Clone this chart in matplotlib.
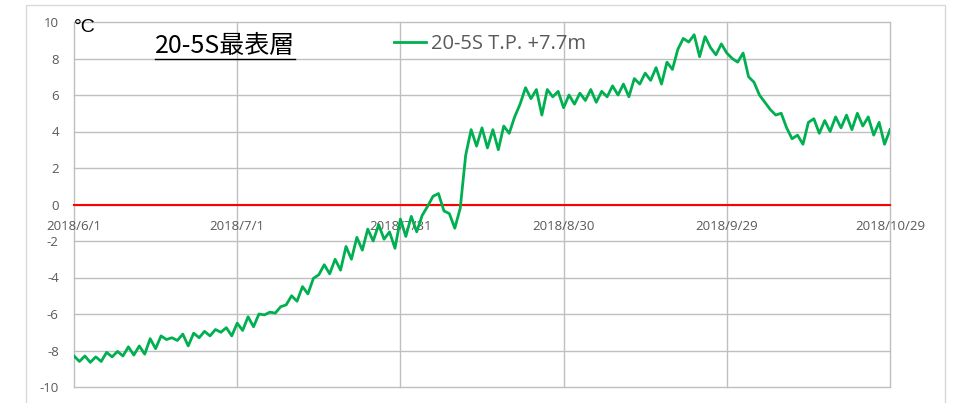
import numpy as np
import pandas as pd
import matplotlib
matplotlib.use('Agg')
import matplotlib.pyplot as plt
from matplotlib.lines import Line2D
from matplotlib.patches import Rectangle

plt.rcParams['axes.unicode_minus'] = False

# daily temperature at 20-5S T.P. +7.7m, 2018/6/1 - 2018/10/29
temp = [
    -8.3, -8.6, -8.3, -8.65, -8.35, -8.6, -8.1, -8.35, -8.05, -8.3,
    -7.8, -8.25, -7.75, -8.2, -7.35, -7.9, -7.2, -7.4, -7.3, -7.45,
    -7.1, -7.75, -7.05, -7.3, -6.95, -7.2, -6.85, -7.0, -6.75, -7.2,
    -6.5, -6.9, -6.15, -6.7, -6.0, -6.05, -5.9, -5.95, -5.6, -5.5,
    -5.0, -5.3, -4.5, -4.9, -4.05, -3.85, -3.3, -3.8, -3.0, -3.6,
    -2.3, -3.0, -1.8, -2.5, -1.35, -2.0, -1.1, -1.9, -1.5, -2.4,
    -0.8, -1.75, -0.65, -1.5, -0.6, -0.1, 0.45, 0.6, -0.35, -0.5,
    -1.3, -0.2, 2.7, 4.1, 3.2, 4.2, 3.1, 4.1, 3.0, 4.3,
    3.9, 4.8, 5.5, 6.4, 5.8, 6.3, 4.9, 6.3, 5.9, 6.2,
    5.3, 6.0, 5.5, 6.1, 5.7, 6.3, 5.6, 6.2, 5.9, 6.5,
    6.0, 6.6, 5.9, 6.9, 6.6, 7.2, 6.8, 7.5, 6.6, 7.8,
    7.4, 8.5, 9.1, 8.9, 9.3, 8.1, 9.2, 8.6, 8.2, 8.8,
    8.3, 8.0, 7.8, 8.3, 7.0, 6.7, 6.0, 5.6, 5.2, 4.9,
    5.0, 4.2, 3.6, 3.8, 3.3, 4.5, 4.7, 3.9, 4.6, 4.0,
    4.8, 4.2, 4.9, 4.1, 5.0, 4.3, 4.8, 3.8, 4.5, 3.3,
    4.1,
]
dates = pd.date_range('2018-06-01', periods=len(temp), freq='D')

tick_dates = pd.to_datetime(['2018-06-01', '2018-07-01', '2018-07-31',
                             '2018-08-30', '2018-09-29', '2018-10-29'])
tick_labels = ['2018/6/1', '2018/7/1', '2018/7/31',
               '2018/8/30', '2018/9/29', '2018/10/29']
y_ticks = list(range(-10, 11, 2))

W, H = 954, 403
fig = plt.figure(figsize=(W / 100, H / 100), dpi=100)
ax = fig.add_axes([74 / W, (H - 387) / H, (890 - 74) / W, (387 - 22) / H])

# outer chart frame
fig.patches.append(Rectangle((26 / W, -0.05), (945 - 26) / W, (H - 5) / H + 0.05,
                             transform=fig.transFigure, fill=False,
                             edgecolor='#d9d9d9', linewidth=1.0))

ax.plot(dates, temp, color='#00B050', linewidth=2.0, label='20-5S T.P. +7.7m',
        zorder=3)

ax.set_xlim(tick_dates[0], tick_dates[-1])
ax.set_ylim(-10, 10)
ax.set_xticks(tick_dates)
ax.set_xticklabels(tick_labels)
ax.set_yticks(y_ticks)
ax.set_yticklabels([str(v) for v in y_ticks])

ax.grid(True, color='#bfbfbf', linewidth=1.0, clip_on=False)
ax.set_axisbelow(True)

for s in ['top', 'right', 'left']:
    ax.spines[s].set_visible(False)
ax.spines['bottom'].set_position(('data', 0))
ax.spines['bottom'].set_color('#FF0000')
ax.spines['bottom'].set_linewidth(1.5)
ax.spines['bottom'].set_zorder(2.5)

ax.tick_params(axis='both', length=0, colors='#595959', labelsize=9.5)
ax.tick_params(axis='x', pad=11)
ax.tick_params(axis='y', pad=11)
for lab in ax.get_xticklabels() + ax.get_yticklabels():
    lab.set_fontfamily('Open Sans')

ax.text(0.0, 0.984, '°C', transform=ax.transAxes, ha='left', va='center',
        fontsize=14, color='black', family=['Liberation Sans', 'DejaVu Sans'])

title = ax.text((155 - 74) / 816, (387 - 46) / 365, '20-5S最表層',
                transform=ax.transAxes, ha='left', va='center', fontsize=18,
                color='black', family=['Noto Sans CJK JP', 'DejaVu Sans'])

leg = ax.legend(loc='center left', bbox_to_anchor=((394 - 74) / 816, (387 - 44) / 365),
                frameon=False, borderaxespad=0, borderpad=0, handlelength=1.6,
                handletextpad=0.25, prop={'family': 'Open Sans', 'size': 14.5})
for t in leg.get_texts():
    t.set_color('#595959')

# underline the title
fig.canvas.draw()
bb = title.get_window_extent().transformed(fig.transFigure.inverted())
fig.lines.append(Line2D([bb.x0, bb.x1], [(H - 59) / H, (H - 59) / H],
                        transform=fig.transFigure, color='black', linewidth=1.0))

fig.savefig('out.png', dpi=100)
